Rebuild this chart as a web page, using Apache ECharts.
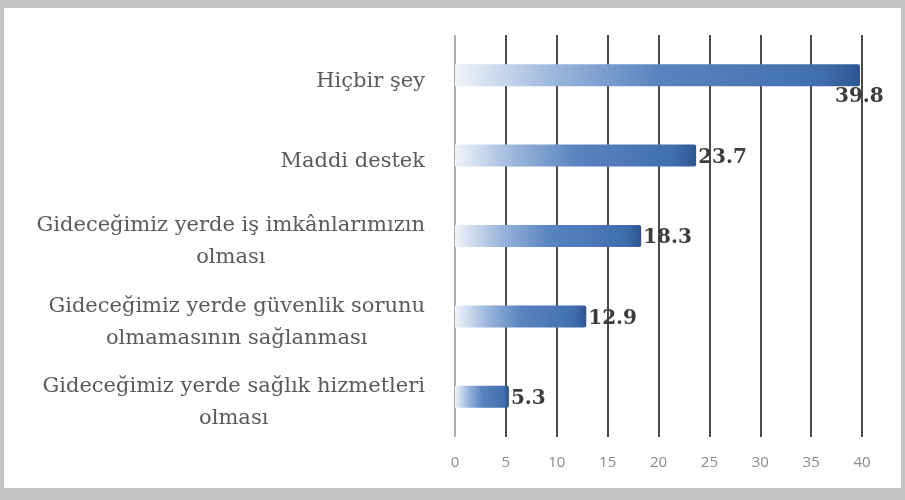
<!DOCTYPE html>
<html><head><meta charset="utf-8">
<script src="https://cdn.jsdelivr.net/npm/echarts@6/dist/echarts.min.js"></script>
<style>
html,body{margin:0;padding:0;width:905px;height:500px;background:#c4c4c4;overflow:hidden}
#c{position:absolute;left:4px;top:8px;width:897px;height:480px;background:#fff}
</style></head><body>
<div id="c"></div>
<script>
var categories = ["Hiçbir şey", "Maddi destek", "Gideceğimiz yerde iş imkânlarımızın\nolması", "Gideceğimiz yerde güvenlik sorunu\nolmamasının sağlanması", "Gideceğimiz yerde sağlık hizmetleri\nolması"];
var values = [39.8, 23.7, 18.3, 12.9, 5.3];
var xTicks = [0, 5, 10, 15, 20, 25, 30, 35, 40];

var chart = echarts.init(document.getElementById('c'));
var grad = new echarts.graphic.LinearGradient(0, 0, 1, 0, [
  {offset: 0, color: '#f0f4fa'},
  {offset: 0.25, color: '#9ab5db'},
  {offset: 0.5, color: '#5a84c0'},
  {offset: 0.9, color: '#416fae'},
  {offset: 1, color: '#2b5692'}
]);
var data = values.map(function (v, i) {
  var item = {value: v};
  if (i === 0) item.label = {offset: [-27, 22]};
  return item;
});
chart.setOption({
  animation: false,
  grid: {left: 451, right: 39, top: 27, bottom: 51},
  xAxis: {
    type: 'value', min: xTicks[0], max: xTicks[xTicks.length - 1], interval: 5,
    axisLine: {show: false}, axisTick: {show: false},
    splitLine: {show: true, lineStyle: {color: ['#9a9a9a', '#1e1e1e', '#1e1e1e', '#1e1e1e', '#1e1e1e', '#1e1e1e', '#1e1e1e', '#1e1e1e', '#1e1e1e'], width: 1.6}},
    axisLabel: {color: '#8a8a8a', fontSize: 15, fontFamily: 'Open Sans', margin: 18}
  },
  yAxis: {
    type: 'category', data: categories, inverse: true,
    axisLine: {show: false}, axisTick: {show: false},
    axisLabel: {
      margin: 30,
      padding: [12, 0, 0, 0],
      formatter: function (v) {
        return v.split('\n').map(function (s) { return '{c|' + s + '}'; }).join('\n');
      },
      rich: {c: {align: 'center', fontFamily: 'DejaVu Serif', fontSize: 21, color: '#5a5a5a', lineHeight: 32}}
    }
  },
  series: [{
    type: 'bar', data: data, barWidth: 22,
    itemStyle: {color: grad, borderRadius: [0, 2, 2, 0]},
    label: {show: true, position: 'right', distance: 2, offset: [0, 2],
      fontFamily: 'DejaVu Serif', fontWeight: 'bold', fontSize: 20, color: '#3c3c3c'}
  }]
});
</script></body></html>
